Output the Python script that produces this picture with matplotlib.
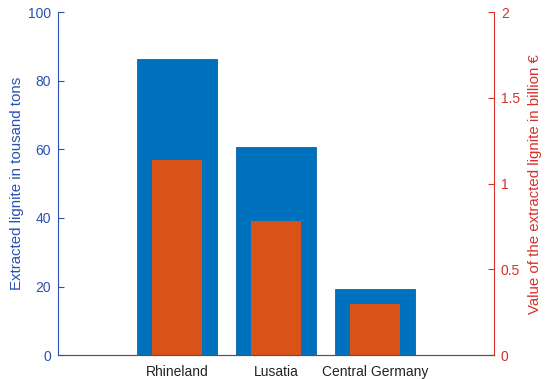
import matplotlib.pyplot as plt
import numpy as np

plt.rcParams['font.family'] = ['Liberation Sans', 'DejaVu Sans']

# Daten
regions = ['Rhineland', 'Lusatia', 'Central Germany']
tons = [86.4, 60.7, 19.2]        # thousand tons
value = [1.14, 0.78, 0.30]       # billion EUR

blue = '#0072BD'
orange = '#D95319'
left_col = '#2a50b4'
right_col = '#d8302a'

x = np.arange(1, len(regions) + 1)

fig = plt.figure(figsize=(5.47, 3.79), dpi=100)
ax = fig.add_axes([0.106, 0.063, 0.797, 0.905])
ax.bar(x, tons, width=0.8, color=blue, edgecolor='#1060a8', linewidth=0.6)
ax.set_xlim(-0.2, 4.2)
ax.set_ylim(0, 100)
ax.set_yticks([0, 20, 40, 60, 80, 100])
ax.set_ylabel('Extracted lignite in tousand tons', color=left_col, fontsize=10.8, labelpad=3)

ax2 = ax.twinx()
ax2.bar(x, value, width=0.5, color=orange)
ax2.set_ylim(0, 2)
ax2.set_yticks([0, 0.5, 1, 1.5, 2])
ax2.set_yticklabels(['0', '0.5', '1', '1.5', '2'])
ax2.set_ylabel('Value of the extracted lignite in billion €', color=right_col, fontsize=10.8, labelpad=6)

ax.set_xticks(x)
ax.set_xticklabels(regions)

for a in (ax, ax2):
    a.spines['top'].set_visible(False)
    a.spines['bottom'].set_color('#555555')
ax.spines['right'].set_visible(False)
ax.spines['left'].set_color(left_col)
ax2.spines['left'].set_visible(False)
ax2.spines['right'].set_color(right_col)

ax.tick_params(axis='y', direction='in', colors=left_col, labelsize=10, length=4, pad=5)
ax.tick_params(axis='x', direction='in', colors='#333333', labelsize=10, length=4, pad=7, labelcolor='#222222')
ax2.tick_params(axis='y', direction='in', colors=right_col, labelsize=10, length=4, pad=5)

fig.savefig('out.png', dpi=100)
